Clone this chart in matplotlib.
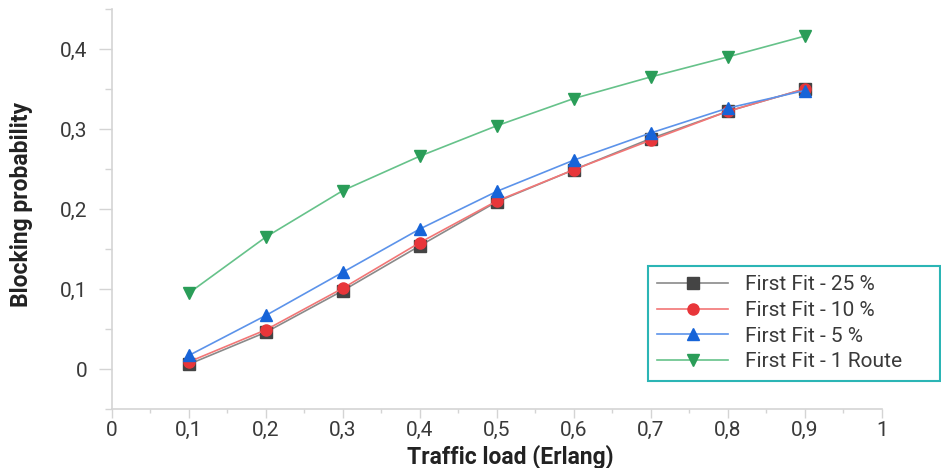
import matplotlib
matplotlib.use("Agg")
import matplotlib.pyplot as plt
from matplotlib.ticker import MultipleLocator, FuncFormatter

plt.rcParams['font.family'] = ['Roboto', 'DejaVu Sans']

# Traffic load (Erlang)
load = [0.1, 0.2, 0.3, 0.4, 0.5, 0.6, 0.7, 0.8, 0.9]

# Blocking probability per strategy
ff_25 = [0.006, 0.046, 0.098, 0.154, 0.209, 0.249, 0.288, 0.322, 0.350]
ff_10 = [0.009, 0.049, 0.101, 0.158, 0.210, 0.249, 0.286, 0.322, 0.350]
ff_5 = [0.017, 0.067, 0.121, 0.175, 0.222, 0.261, 0.295, 0.326, 0.348]
ff_1route = [0.095, 0.165, 0.223, 0.266, 0.304, 0.338, 0.365, 0.390, 0.416]

labels = ["First Fit - 25 %", "First Fit - 10 %", "First Fit - 5 %", "First Fit - 1 Route"]

# (line colour, marker colour, marker)
styles = [
    ("#8a8a8a", "#444444", "s"),
    ("#f27676", "#e8363a", "o"),
    ("#5c93ea", "#1764d8", "^"),
    ("#66c28a", "#2a9d58", "v"),
]

fig = plt.figure(figsize=(9.41, 4.68), dpi=100)
ax = fig.add_axes([0.119, 0.126, 0.818, 0.855])

for series, label, (lc, mc, mk) in zip([ff_25, ff_10, ff_5, ff_1route], labels, styles):
    ax.plot(load, series, color=lc, linewidth=1.2, marker=mk, markersize=8,
            markerfacecolor=mc, markeredgecolor=mc, label=label)

ax.set_xlim(0, 1)
ax.set_ylim(-0.05, 0.45)
ax.xaxis.set_major_locator(MultipleLocator(0.1))
ax.xaxis.set_minor_locator(MultipleLocator(0.05))
ax.yaxis.set_major_locator(MultipleLocator(0.1))
ax.yaxis.set_minor_locator(MultipleLocator(0.05))
ax.set_ylim(-0.05, 0.45)

fmt = FuncFormatter(lambda v, p: ("%g" % round(v, 2)).replace(".", ","))
ax.xaxis.set_major_formatter(fmt)
ax.yaxis.set_major_formatter(fmt)

for side in ["top", "right"]:
    ax.spines[side].set_visible(False)
for side in ["left", "bottom"]:
    ax.spines[side].set_color("#d4d4d4")
    ax.spines[side].set_linewidth(1.2)

ax.tick_params(which="both", color="#d4d4d4", width=1, labelsize=15,
               labelcolor="#3a3a3a")
ax.tick_params(axis="y", which="major", length=9.5, pad=8)
ax.tick_params(axis="y", which="minor", length=5)
ax.tick_params(axis="x", which="major", length=6.5, pad=2)
ax.tick_params(axis="x", which="minor", length=3)

ax.set_xlabel("Traffic load (Erlang)", fontsize=16.5, fontweight="bold", color="#222222")
ax.set_ylabel("Blocking probability", fontsize=16.5, fontweight="bold", color="#222222")
ax.xaxis.set_label_coords(0.518, -0.088)
ax.yaxis.set_label_coords(-0.103, 0.51)

leg = fig.legend(loc="upper left",
                 bbox_to_anchor=(648 / 941, 1 - 382 / 468, 292 / 941, 116 / 468),
                 mode="expand", prop={"size": 15}, frameon=True, fancybox=False,
                 handlelength=3.4, borderpad=0.45, labelspacing=0.32,
                 handletextpad=0.8, borderaxespad=0, framealpha=1)
leg.get_frame().set_edgecolor("#2bb5b5")
leg.get_frame().set_linewidth(1.5)
for t in leg.get_texts():
    t.set_color("#3a3a3a")

fig.savefig("out.png", dpi=100)
